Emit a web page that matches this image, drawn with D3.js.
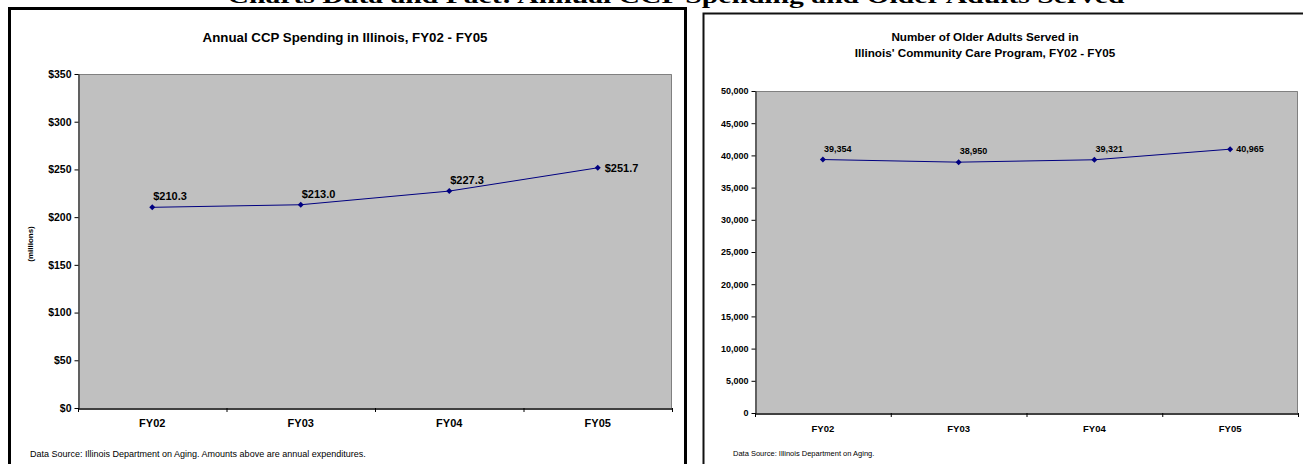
<!DOCTYPE html>
<html><head><meta charset="utf-8">
<script src="https://cdn.jsdelivr.net/npm/d3@7"></script>
<style>body{margin:0;background:#fff}svg{display:block}</style>
</head><body>
<svg id="c" width="1303" height="464"></svg>
<script>
const categories = ["FY02","FY03","FY04","FY05"];
const spending = [210.3, 213.0, 227.3, 251.7];
const spendingLabels = ["$210.3","$213.0","$227.3","$251.7"];
const spendingTicks = [0,50,100,150,200,250,300,350];
const served = [39354, 38950, 39321, 40965];
const servedLabels = ["39,354","38,950","39,321","40,965"];
const servedTicks = [0,5000,10000,15000,20000,25000,30000,35000,40000,45000,50000];

const svg = d3.select("#c");
const SANS = "'Liberation Sans', Arial, sans-serif";

// page heading (cut off at top in the reference)
svg.append("text").attr("x",676).attr("y",3).attr("text-anchor","middle")
  .attr("font-family","'Liberation Serif', 'Times New Roman', serif").attr("font-weight","bold")
  .attr("font-size",22).attr("textLength",897).attr("lengthAdjust","spacingAndGlyphs")
  .text("Charts Data and Fact: Annual CCP Spending and Older Adults Served");

// panel borders
svg.append("path").attr("d","M9.5,470 V8.5 H685.5 V470").attr("fill","none").attr("stroke","#000").attr("stroke-width",3);
svg.append("path").attr("d","M703.5,470 V13.5 H1310").attr("fill","none").attr("stroke","#111").attr("stroke-width",2);

function chart(o){
  const g = svg.append("g");
  const x = d3.scaleBand().domain(categories).range([o.left,o.right]);
  const y = d3.scaleLinear().domain([0,o.max]).range([o.bottom,o.top]);
  g.append("rect").attr("x",o.left).attr("y",o.top).attr("width",o.right-o.left).attr("height",o.bottom-o.top)
    .attr("fill","#c0c0c0");
  g.append("path").attr("d",`M${o.left},${o.top+0.5}H${o.right-0.5}V${o.bottom}`).attr("fill","none").attr("stroke","#808080").attr("stroke-width",1);
  // y axis
  const ya = g.append("g").attr("transform",`translate(${o.left+0.5},0)`)
    .call(d3.axisLeft(y).tickValues(o.ticks).tickSize(4).tickSizeOuter(0).tickPadding(3).tickFormat(o.tickFmt));
  ya.select(".domain").attr("stroke","#000");
  ya.selectAll("text").attr("font-family",SANS).attr("font-weight","bold").attr("font-size",o.tickFont).attr("fill","#000");
  // x axis
  const xa = g.append("g").attr("transform",`translate(0,${o.bottom+0.5})`)
    .call(d3.axisBottom(x).tickSize(0).tickPadding(o.xPad));
  xa.select(".domain").attr("stroke","#000").attr("stroke-width",1.5);
  xa.selectAll("text").attr("font-family",SANS).attr("font-weight","bold").attr("font-size",o.xFont).attr("fill","#000");
  const bounds = categories.map(c=>x(c)).concat([o.right]);
  g.selectAll(".xt").data(bounds).enter().append("line")
    .attr("x1",d=>d+0.5).attr("x2",d=>d+0.5).attr("y1",o.bottom).attr("y2",o.bottom+4).attr("stroke","#000");
  // line
  const pts = o.values.map((v,i)=>[x(categories[i])+x.bandwidth()/2, y(v)]);
  g.append("path").attr("d",d3.line()(pts)).attr("fill","none").attr("stroke","#000080").attr("stroke-width",1);
  g.selectAll(".m").data(pts).enter().append("path")
    .attr("transform",d=>`translate(${d[0]},${d[1]})`)
    .attr("d","M0,-3L3,0L0,3L-3,0Z").attr("fill","#000080");
  g.selectAll(".lb").data(pts).enter().append("text")
    .attr("x",(d,i)=> i===pts.length-1 ? d[0]+o.lastDx : d[0]+1)
    .attr("y",(d,i)=> i===pts.length-1 ? d[1]+o.lastDy : d[1]+o.labelDy)
    .attr("font-family",SANS).attr("font-weight","bold").attr("font-size",o.labelFont).attr("fill","#000")
    .text((d,i)=>o.labels[i]);
  // title
  o.title.forEach((t,i)=>{
    g.append("text").attr("x",o.titleX).attr("y",o.titleY+i*o.titleLH).attr("text-anchor","middle")
      .attr("font-family",SANS).attr("font-weight","bold").attr("font-size",o.titleFont).text(t);
  });
  g.append("text").attr("x",o.noteX).attr("y",o.noteY).attr("font-family",SANS).attr("font-size",o.noteFont).text(o.note);
  return {g,x,y};
}

const c1 = chart({left:78,right:672,top:74,bottom:408,max:350,ticks:spendingTicks,
  tickFmt:d=>"$"+d,tickFont:10.5,xFont:11,xPad:11,values:spending,labels:spendingLabels,
  labelDy:-7,lastDx:7,lastDy:4,labelFont:11,
  title:["Annual CCP Spending in Illinois, FY02 - FY05"],titleX:345,titleY:42,titleLH:0,titleFont:13.3,
  note:"Data Source: Illinois Department on Aging.  Amounts above are annual expenditures.",noteX:30,noteY:457,noteFont:9});
c1.g.append("text").attr("transform","translate(33,244) rotate(-90)").attr("text-anchor","middle")
  .attr("font-family",SANS).attr("font-weight","bold").attr("font-size",8).text("(millions)");

chart({left:755,right:1298,top:91,bottom:413,max:50000,ticks:servedTicks,
  tickFmt:d3.format(","),tickFont:9,xFont:9.5,xPad:12,values:served,labels:servedLabels,
  labelDy:-8,lastDx:6,lastDy:3,labelFont:9,
  title:["Number of Older Adults Served in","Illinois' Community Care Program, FY02 - FY05"],titleX:985,titleY:41,titleLH:16,titleFont:11.7,
  note:"Data Source: Illinois Department on Aging.",noteX:733,noteY:456,noteFont:7.5});
</script>
</body></html>
